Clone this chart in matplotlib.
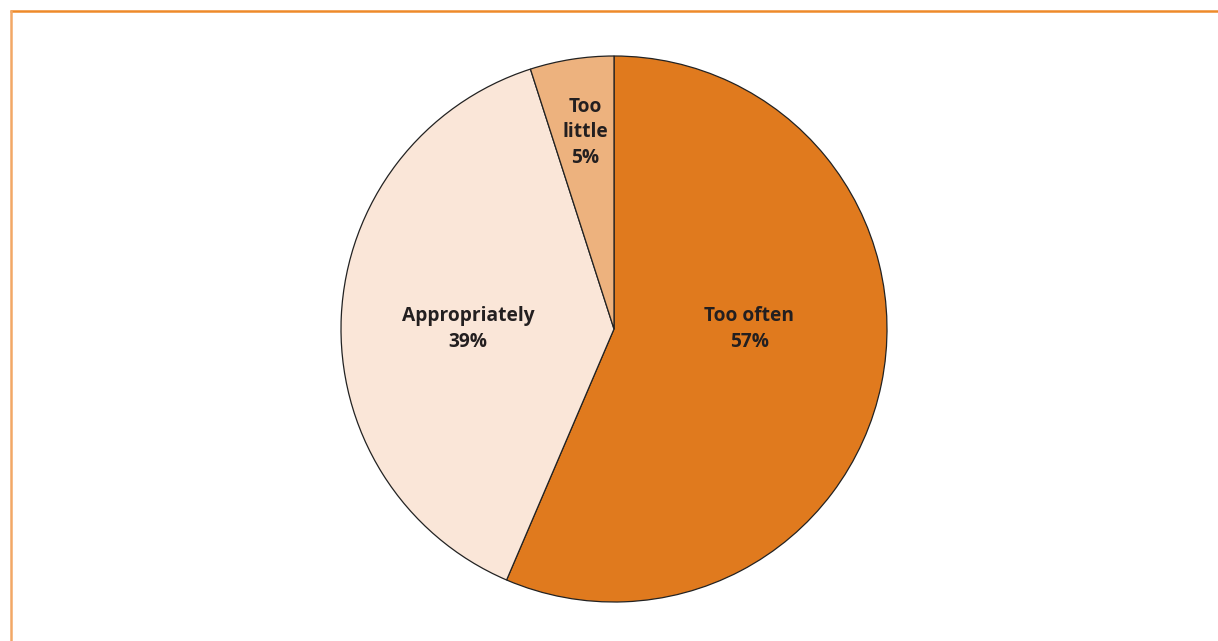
import matplotlib
matplotlib.use("Agg")
import matplotlib.pyplot as plt
from matplotlib.lines import Line2D

categories = ["Too often", "Appropriately", "Too little"]
values = [57, 39, 5]
labels = ["Too often\n57%", "Appropriately\n39%", "Too\nlittle\n5%"]
colors = ["#E07A1E", "#FAE6D8", "#EDB27E"]
label_pos = [(0.495, 0.0), (-0.535, 0.0), (-0.105, 0.72)]

plt.rcParams['font.family'] = ['Open Sans', 'DejaVu Sans']

fig = plt.figure(figsize=(12.18, 6.41), dpi=100)
W, H = 1218, 641
ax = fig.add_axes([341 / W, (H - 602) / H, 546 / W, 546 / H])
ax.pie(values, colors=colors, startangle=90, counterclock=False,
       radius=1, wedgeprops=dict(edgecolor="#222222", linewidth=0.9))
ax.set_xlim(-1.0, 1.0)
ax.set_ylim(-1.0, 1.0)
ax.set_aspect("equal")
ax.axis("off")

for lab, (x, y) in zip(labels, label_pos):
    ax.text(x, y, lab, ha="center", va="center", fontsize=13.8, fontweight="bold",
            color="#231F20", linespacing=1.38)

# frame lines (top and left)
fig.add_artist(Line2D([10 / W, 1.0], [1 - 10.5 / H, 1 - 10.5 / H], transform=fig.transFigure,
                      color="#EE8A2A", linewidth=1.8, solid_capstyle="butt"))
fig.add_artist(Line2D([10.5 / W, 10.5 / W], [0, 1 - 10 / H], transform=fig.transFigure,
                      color="#F2A866", linewidth=1.8, solid_capstyle="butt"))

fig.savefig("out.png", dpi=100)
